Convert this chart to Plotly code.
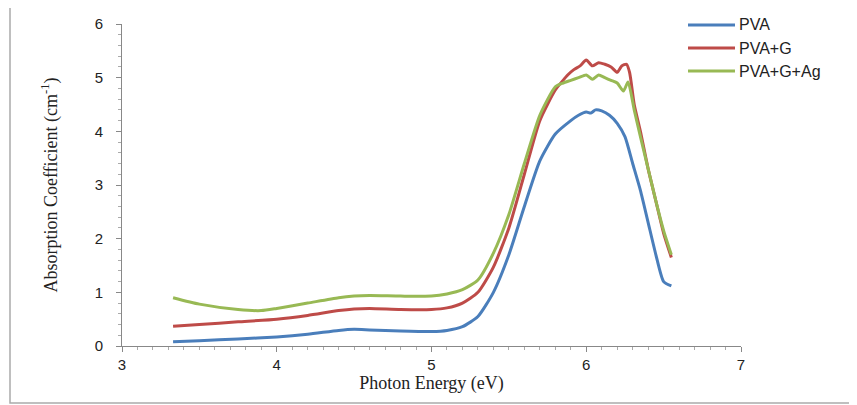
import plotly.graph_objects as go

energy_pva = [3.33, 3.5, 3.75, 4.0, 4.2, 4.4, 4.5, 4.6, 4.8, 5.0, 5.1, 5.2, 5.3, 5.4, 5.5, 5.6, 5.7, 5.8, 5.9, 5.95, 6.0, 6.03, 6.06, 6.1, 6.15, 6.2, 6.25, 6.3, 6.35, 6.4, 6.45, 6.5, 6.55]
alpha_pva = [0.08, 0.1, 0.13, 0.17, 0.22, 0.29, 0.31, 0.3, 0.28, 0.27, 0.29, 0.36, 0.55, 1.0, 1.7, 2.6, 3.45, 3.95, 4.2, 4.3, 4.36, 4.34, 4.4, 4.38, 4.3, 4.15, 3.9, 3.4, 2.9, 2.3, 1.7, 1.2, 1.12]

energy_g = [3.33, 3.5, 3.75, 4.0, 4.2, 4.4, 4.5, 4.6, 4.8, 5.0, 5.1, 5.2, 5.3, 5.4, 5.5, 5.6, 5.7, 5.8, 5.85, 5.88, 5.92, 5.96, 6.0, 6.04, 6.08, 6.12, 6.16, 6.2, 6.23, 6.26, 6.28, 6.31, 6.35, 6.4, 6.45, 6.5, 6.55]
alpha_g = [0.37, 0.4, 0.45, 0.5, 0.57, 0.66, 0.69, 0.7, 0.68, 0.68, 0.71, 0.8, 1.0, 1.47, 2.2, 3.2, 4.2, 4.77, 4.95, 5.05, 5.15, 5.22, 5.33, 5.22, 5.28, 5.25, 5.2, 5.1, 5.22, 5.25, 5.1, 4.5, 4.0, 3.3, 2.7, 2.1, 1.65]

energy_ag = [3.33, 3.5, 3.75, 3.9, 4.0, 4.2, 4.4, 4.5, 4.6, 4.8, 5.0, 5.1, 5.2, 5.3, 5.4, 5.5, 5.6, 5.7, 5.8, 5.85, 5.9, 5.95, 6.0, 6.04, 6.08, 6.12, 6.16, 6.2, 6.24, 6.27, 6.31, 6.35, 6.4, 6.45, 6.5, 6.55]
alpha_ag = [0.9, 0.78, 0.68, 0.66, 0.7, 0.8, 0.9, 0.93, 0.94, 0.93, 0.93, 0.97, 1.05, 1.23, 1.73, 2.45, 3.4, 4.3, 4.83, 4.9, 4.95, 5.0, 5.05, 4.97, 5.05, 5.0, 4.95, 4.9, 4.75, 4.92, 4.4, 3.9, 3.3, 2.7, 2.15, 1.7]

labels = ["PVA", "PVA+G", "PVA+G+Ag"]
colors = ["#4a7ebb", "#be4b48", "#98b954"]

# plot area geometry in figure pixels
L, T, PW, PH = 114, 16, 619, 322

def px(x):
    return (x - L) / PW

def py(y):
    return (T + PH - y) / PH

fig = go.Figure()
for xs, ys, name, c in [(energy_pva, alpha_pva, labels[0], colors[0]),
                        (energy_g, alpha_g, labels[1], colors[1]),
                        (energy_ag, alpha_ag, labels[2], colors[2])]:
    fig.add_trace(go.Scatter(x=xs, y=ys, mode="lines", name=name, showlegend=False,
                             line=dict(color=c, width=3, shape="spline", smoothing=0.6)))

shapes = [dict(type="rect", xref="paper", yref="paper",
               x0=px(2), x1=px(860), y0=py(395), y1=py(-1),
               line=dict(color="#aaaaaa", width=1.5), layer="below")]
annotations = []
row_y = [17, 40, 63]
for name, c, yy in zip(labels, colors, row_y):
    shapes.append(dict(type="line", xref="paper", yref="paper",
                       x0=px(680), x1=px(727), y0=py(yy), y1=py(yy),
                       line=dict(color=c, width=3)))
    annotations.append(dict(xref="paper", yref="paper", x=px(729), y=py(yy),
                            xanchor="left", yanchor="middle", showarrow=False, text=name,
                            font=dict(family="Liberation Sans, Arial", size=16, color="#222")))

fig.update_layout(
    width=857, height=405,
    paper_bgcolor="white", plot_bgcolor="white",
    margin=dict(l=L, r=857 - L - PW, t=T, b=405 - T - PH, autoexpand=False),
    font=dict(family="Liberation Sans, Arial", size=14, color="#222"),
    showlegend=False,
    shapes=shapes,
    annotations=annotations,
)
fig.update_xaxes(range=[3, 7], dtick=1, showgrid=False, zeroline=False,
                 showline=True, linecolor="#888", linewidth=1,
                 ticks="outside", ticklen=5, tickcolor="#888",
                 minor=dict(dtick=0.1, ticks="outside", ticklen=3, tickcolor="#aaa"),
                 tickfont=dict(size=15, color="#222"),
                 title=dict(text="Photon Energy (eV)", standoff=4,
                            font=dict(family="Liberation Serif, Times New Roman", size=18, color="#222")))
fig.update_yaxes(range=[0, 6], dtick=1, showgrid=False, zeroline=False,
                 showline=True, linecolor="#888", linewidth=1,
                 ticks="outside", ticklen=5, tickcolor="#888", ticklabelstandoff=10,
                 minor=dict(dtick=0.2, ticks="outside", ticklen=3, tickcolor="#aaa"),
                 tickfont=dict(size=15, color="#222"),
                 title=dict(text="Absorption Coefficient (cm<sup>-1</sup>)", standoff=32,
                            font=dict(family="Liberation Serif, Times New Roman", size=18, color="#222")))

fig.write_html("out.html")
